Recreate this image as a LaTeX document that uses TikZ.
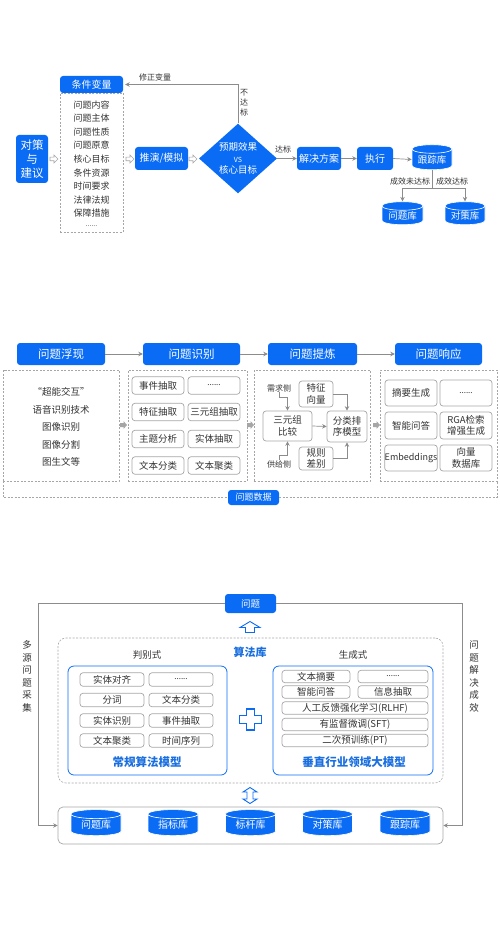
\documentclass[tikz,border=0pt]{standalone}
\usepackage{fontspec}
\setmainfont{Noto Sans CJK SC}
\usetikzlibrary{shapes.geometric, arrows.meta, positioning}

\definecolor{flowblue}{HTML}{0A6CF5}
\definecolor{titleblue}{HTML}{1A6FE0}
\definecolor{linegray}{HTML}{8C8C8C}
\definecolor{boxgray}{HTML}{A6A6A6}
\definecolor{textgray}{HTML}{333333}

\tikzset{
  base/.style={inner sep=0pt, text=textgray, font=\fontsize{9.5}{11.5}\selectfont},
  bluebox/.style={base, fill=flowblue, text=white, rounded corners=3pt},
  dashbox/.style={draw=boxgray, dash pattern=on 2pt off 1.5pt, line width=0.6pt},
  cell/.style={base, draw=boxgray, rounded corners=3pt, line width=0.7pt, align=center},
  lib/.style={base, cylinder, shape border rotate=90, aspect=0.3, draw=white, line width=0.6pt,
    cylinder uses custom fill, cylinder body fill=flowblue, cylinder end fill=flowblue, text=white},
  flow/.style={draw=linegray, line width=0.7pt, -{Stealth[length=4.5pt,width=4.5pt]}},
  note/.style={base, font=\fontsize{8}{10}\selectfont},
  modeltitle/.style={base, text=titleblue, font=\bfseries\fontsize{11.5}{13}\selectfont},
  pics/rarrow/.style={code={
    \draw[draw=boxgray, fill=white, line width=0.6pt]
      (-4,-1.8) -- (0,-1.8) -- (0,-4) -- (4,0) -- (0,4) -- (0,1.8) -- (-4,1.8) -- cycle;}},
  pics/garrow/.style={code={
    \fill[boxgray] (-3.5,-2) -- (0,-2) -- (0,-4) -- (3.5,0) -- (0,4) -- (0,2) -- (-3.5,2) -- cycle;}},
  pics/uparrow/.style={code={
    \draw[draw=flowblue, fill=white, line width=0.9pt]
      (0,-6) -- (10,0) -- (4.5,0) -- (4.5,5) -- (-4.5,5) -- (-4.5,0) -- (-10,0) -- cycle;}},
  pics/udarrow/.style={code={
    \draw[draw=flowblue, fill=white, line width=0.9pt]
      (0,-8) -- (7,-3.5) -- (3,-3.5) -- (3,3.5) -- (7,3.5) -- (0,8) -- (-7,3.5) -- (-3,3.5)
      -- (-3,-3.5) -- (-7,-3.5) -- cycle;}},
  pics/plus/.style={code={
    \draw[draw=flowblue, fill=white, line width=1.1pt]
      (-4,-10.5) -- (4,-10.5) -- (4,-4) -- (11,-4) -- (11,4) -- (4,4) -- (4,10.5) -- (-4,10.5)
      -- (-4,4) -- (-11,4) -- (-11,-4) -- (-4,-4) -- cycle;}},
}

\begin{document}
\begin{tikzpicture}[x=1pt, y=-1pt]
  \useasboundingbox (0,0) rectangle (500,928);

  % decision loop
  \node[bluebox, minimum width=32pt, minimum height=48pt, align=center,
        font=\fontsize{11.5}{14}\selectfont] (advice) at (32,159) {对策\\与\\建议};
  \node[bluebox, minimum width=63pt, minimum height=17pt, font=\fontsize{10}{12}\selectfont] (cond) at (91.5,84.5) {条件变量};
  \node[dashbox, minimum width=63pt, minimum height=139pt] (condlist) at (91.5,162.5) {};
  \node[base, align=center, font=\fontsize{9}{13.6}\selectfont] (conditems) at (91.5,159)
    {问题内容\\问题主体\\问题性质\\问题原意\\核心目标\\条件资源\\时间要求\\法律法规\\保障措施};
  \node[base, font=\fontsize{7}{8}\selectfont] (condmore) at (91.5,226) {......};
  \node[bluebox, minimum width=53pt, minimum height=23pt, font=\fontsize{10}{12}\selectfont] (sim) at (161.5,158.5) {推演/模拟};
  \node[bluebox, diamond, rounded corners=0pt, minimum width=78pt, minimum height=65pt, align=center,
        font=\fontsize{9.5}{11.5}\selectfont] (judge) at (238,158.5)
    {预期效果\\{\fontsize{7}{9}\selectfont VS}\\核心目标};
  \node[bluebox, minimum width=44pt, minimum height=23pt, font=\fontsize{10}{12}\selectfont] (plan) at (319,158.5) {解决方案};
  \node[bluebox, minimum width=36pt, minimum height=23pt, font=\fontsize{10}{12}\selectfont] (exec) at (375,158.5) {执行};
  \node[lib, minimum width=40pt, minimum height=25pt] (track) at (432,159.5) {跟踪库};
  \node[lib, minimum width=41pt, minimum height=23pt] (qlib) at (402.5,215.5) {问题库};
  \node[lib, minimum width=40pt, minimum height=23pt] (slib) at (465,215.5) {对策库};
  \coordinate (split) at (432,188);

  \pic at (54,159) {rarrow};
  \pic at (130,159) {rarrow};
  \pic at (193,159) {rarrow};

  \draw[flow, shorten >=2pt] (judge.north) |- (cond.east);
  \node[note] at (155,77) {修正变量};
  \node[note, align=center, font=\fontsize{8}{10}\selectfont] at (244,103) {不\\达\\标};
  \draw[flow] (judge.east) -- (plan.west);
  \node[note] at (283,149) {达标};
  \draw[flow] (plan.east) -- (exec.west);
  \draw[flow] (exec.east) -- (track.west);
  \draw[draw=linegray, line width=0.7pt] (track.south) -- (split);
  \draw[flow] (split) -| (qlib.north);
  \draw[flow] (split) -| (slib.north);
  \node[note] at (410,181) {成效未达标};
  \node[note] at (452,181) {成效达标};

  % problem pipeline
  \node[bluebox, minimum width=88pt, minimum height=22pt, font=\fontsize{11.5}{13}\selectfont] (emerge) at (61,354) {问题浮现};
  \node[bluebox, minimum width=97pt, minimum height=22pt, font=\fontsize{11.5}{13}\selectfont] (identify) at (191.5,354) {问题识别};
  \node[bluebox, minimum width=89pt, minimum height=22pt, font=\fontsize{11.5}{13}\selectfont] (refine) at (312.5,354) {问题提炼};
  \node[bluebox, minimum width=87pt, minimum height=22pt, font=\fontsize{11.5}{13}\selectfont] (respond) at (438.5,354) {问题响应};
  \draw[flow] (emerge.east) -- (identify.west);
  \draw[flow] (identify.east) -- (refine.west);
  \draw[flow] (refine.east) -- (respond.west);

  \node[dashbox, minimum width=116pt, minimum height=111pt] (emergebox) at (61,425.5) {};
  \node[dashbox, minimum width=119pt, minimum height=111pt] (identifybox) at (187.5,425.5) {};
  \node[dashbox, minimum width=116pt, minimum height=111pt] (refinebox) at (312,425.5) {};
  \node[dashbox, minimum width=117pt, minimum height=111pt] (respondbox) at (438.5,425.5) {};
  \pic at (123.5,425) {garrow};
  \pic at (250.5,425) {garrow};
  \pic at (376.5,425) {garrow};

  \node[base, align=center, font=\fontsize{9.5}{17.5}\selectfont] (sources) at (61,427)
    {“超能交互”\\语音识别技术\\图像识别\\图像分割\\图生文等};

  \tikzset{idcell/.style={cell, minimum width=52pt, minimum height=17.5pt}}
  \node[idcell] (event) at (158,385.5) {事件抽取};
  \node[idcell] (idmore) at (214,385.5) {{\fontsize{8}{9}\selectfont ......}};
  \node[idcell] (feature) at (158,412) {特征抽取};
  \node[idcell] (triple) at (214,412) {三元组抽取};
  \node[idcell] (topic) at (158,439) {主题分析};
  \node[idcell] (entity) at (214,439) {实体抽取};
  \node[idcell] (classify) at (158,465.5) {文本分类};
  \node[idcell] (cluster) at (214,465.5) {文本聚类};

  \node[note] (demand) at (279,388) {需求侧};
  \node[note] (supply) at (279,464) {供给侧};
  \node[cell, minimum width=34pt, minimum height=26pt, font=\fontsize{9.5}{11.5}\selectfont] (vec) at (316,394) {特征\\向量};
  \node[cell, minimum width=49pt, minimum height=30pt, font=\fontsize{9.5}{11.5}\selectfont] (compare) at (287.5,426) {三元组\\比较};
  \node[cell, minimum width=40pt, minimum height=31pt, font=\fontsize{9.5}{11.5}\selectfont] (rank) at (347,426.5) {分类排\\序模型};
  \node[cell, minimum width=34pt, minimum height=23pt, font=\fontsize{9.5}{11.5}\selectfont] (rule) at (316,458.5) {规则\\差别};
  \draw[flow] (demand.south) -- ++(0,5) -| (compare.north);
  \draw[flow] (supply.north) -- ++(0,-5) -| (compare.south);
  \draw[flow] (compare.east) -- (rank.west);
  \draw[flow] (vec.east) -| (rank.north);
  \draw[flow] (rule.east) -| (rank.south);

  \tikzset{rcell/.style={cell, minimum width=52pt, minimum height=26pt, font=\fontsize{9.5}{11.5}\selectfont}}
  \node[rcell] (summary) at (411,393) {摘要生成};
  \node[rcell] (respmore) at (466,393) {{\fontsize{8}{9}\selectfont ......}};
  \node[rcell, minimum height=27pt] (qa) at (411,425.5) {智能问答};
  \node[rcell, minimum height=27pt] (rag) at (466,425.5) {RGA检索\\增强生成};
  \node[rcell] (embed) at (411,458) {\fontsize{9}{11}\selectfont Embeddings};
  \node[rcell] (vecdb) at (466,458) {向量\\数据库};

  \node[bluebox, minimum width=51pt, minimum height=15pt, font=\fontsize{9}{11}\selectfont] (qdata) at (253.5,497.5) {问题数据};
  \draw[dashbox] (3,481) -- (3,497.5) -- (qdata.west);
  \draw[dashbox] (qdata.east) -- (497,497.5) -- (497,481);

  % algorithm platform
  \node[bluebox, minimum width=51pt, minimum height=19pt, font=\fontsize{9.5}{11}\selectfont] (question) at (250.5,603.5) {问题};
  \pic at (250,627.5) {uparrow};
  \node[base, align=center, font=\fontsize{9.5}{12.5}\selectfont] (collect) at (27,676.5) {多\\源\\问\\题\\采\\集};
  \node[base, align=center, font=\fontsize{9.5}{12.5}\selectfont] (effect) at (474,676.5) {问\\题\\解\\决\\成\\效};

  \node[dashbox, rounded corners=8pt, minimum width=385pt, minimum height=145pt] (algo) at (250.5,710.5) {};
  \node[base, text=titleblue, font=\bfseries\fontsize{11}{13}\selectfont] (algotitle) at (250,652) {算法库};
  \node[base] (discr) at (147,655) {判别式};
  \node[base] (gener) at (353,655) {生成式};

  \node[draw=flowblue, line width=0.8pt, rounded corners=6pt, minimum width=159pt, minimum height=109pt] (classic) at (147.5,720.5) {};
  \node[draw=flowblue, line width=0.8pt, rounded corners=6pt, minimum width=160pt, minimum height=109pt] (vertical) at (353,720.5) {};

  \tikzset{acell/.style={cell, minimum width=64pt, minimum height=13.5pt}}
  \node[acell] (align) at (112,679.5) {实体对齐};
  \node[acell] (amore) at (181,679.5) {{\fontsize{8}{9}\selectfont ......}};
  \node[acell] (seg) at (112,700) {分词};
  \node[acell] (tcls) at (181,700) {文本分类};
  \node[acell] (ner) at (112,720.5) {实体识别};
  \node[acell] (evx) at (181,720.5) {事件抽取};
  \node[acell] (tclu) at (112,740.5) {文本聚类};
  \node[acell] (tseries) at (181,740.5) {时间序列};
  \node[modeltitle] (classictitle) at (147,762) {常规算法模型};

  \tikzset{gcell/.style={cell, minimum height=12.5pt}}
  \node[gcell, minimum width=68pt] (abstract) at (316,676.5) {文本摘要};
  \node[gcell, minimum width=70pt] (gmore) at (393,676.5) {{\fontsize{8}{9}\selectfont ......}};
  \node[gcell, minimum width=68pt] (gqa) at (316,692) {智能问答};
  \node[gcell, minimum width=70pt] (info) at (393,692) {信息抽取};
  \node[gcell, minimum width=146pt] (rlhf) at (355,708) {人工反馈强化学习(RLHF)};
  \node[gcell, minimum width=146pt] (sft) at (355,724.5) {有监督微调(SFT)};
  \node[gcell, minimum width=146pt] (pt) at (355,740.5) {二次预训练(PT)};
  \node[modeltitle] (verticaltitle) at (354,762) {垂直行业领域大模型};

  \pic at (250.5,719.5) {plus};
  \pic at (250,795.5) {udarrow};

  \node[draw=boxgray, line width=0.7pt, rounded corners=5pt, minimum width=385pt, minimum height=37pt] (libs) at (250.5,825.5) {};
  \tikzset{blib/.style={lib, minimum width=50pt, minimum height=26pt, font=\fontsize{10}{12}\selectfont}}
  \node[blib] (lq) at (96,825) {问题库};
  \node[blib] (li) at (173,825) {指标库};
  \node[blib] (lb) at (250.5,825) {标杆库};
  \node[blib] (ls) at (327.5,825) {对策库};
  \node[blib] (lt) at (405,825) {跟踪库};

  \draw[flow] (question.west) -- (38,603.5) |- (libs.west);
  \draw[flow] (question.east) -- (462,603.5) |- (libs.east);
\end{tikzpicture}
\end{document}
